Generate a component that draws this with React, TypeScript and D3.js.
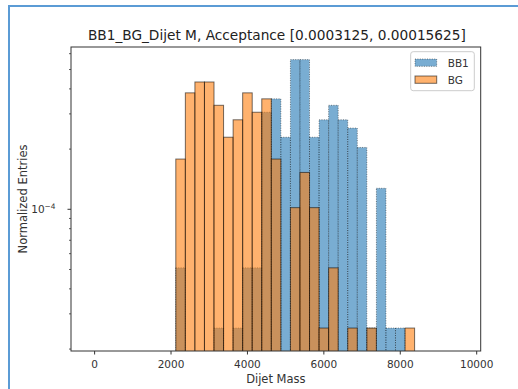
import React from 'react';
import * as d3 from 'd3';

// Histogram data (counts per 250-wide bin, starting at 2125)
const binStart = 2125;
const binWidth = 250;
const bb1Counts = [2, 0, 0, 0, 1, 0, 1, 2, 2, 12, 14, 9, 22, 22, 9, 11, 13, 11, 10, 8, 1, 5, 1, 1, 0];
const bgCounts = [7, 15, 17, 17, 13, 9, 11, 15, 12, 14, 7, 0, 4, 6, 4, 1, 2, 0, 1, 0, 1, 0, 0, 0, 1];
const xTicks = [0, 2000, 4000, 6000, 8000, 10000];
const yMajorTicks = [1e-4];
const yMinorTicks = [2e-5, 3e-5, 4e-5, 5e-5, 6e-5, 7e-5, 8e-5, 9e-5, 2e-4, 3e-4, 4e-4, 5e-4, 6e-4];
const seriesNames = ['BB1', 'BG'];
const title = 'BB1_BG_Dijet M, Acceptance [0.0003125, 0.00015625]';
const xLabel = 'Dijet Mass';
const yLabel = 'Normalized Entries';

const W = 518;
const H = 389;
const L = 71, R = 480.7, T = 47, B = 351;
const FONT = 'DejaVu Sans, sans-serif';

function density(counts: number[]) {
  const total = d3.sum(counts);
  return counts.map((c, i) => ({
    x0: binStart + i * binWidth,
    x1: binStart + (i + 1) * binWidth,
    v: c / (total * binWidth),
  }));
}

export default function App() {
  const x = d3.scaleLinear().domain([-618, 10105]).range([L, R]);
  const y = d3.scaleLog().domain([1.956e-5, 6.48e-4]).range([B, T]);
  const bb1 = density(bb1Counts).filter((d) => d.v > 0);
  const bg = density(bgCounts).filter((d) => d.v > 0);

  return (
    <svg
      width={W}
      height={H}
      style={{ position: 'absolute', left: 0, top: 0, background: '#fff' }}
      fontFamily={FONT}
    >
      <defs>
        <clipPath id="axclip">
          <rect x={L} y={T} width={R - L} height={B - T} />
        </clipPath>
      </defs>
      {/* outer blue frame */}
      <path d={`M9,${H} L9,6 L${W},6`} fill="none" stroke="#5b9bd5" strokeWidth={2} />

      <g clipPath="url(#axclip)">
        {bb1.map((d, i) => (
          <rect
            key={'b' + i}
            x={x(d.x0)}
            y={y(d.v)}
            width={x(d.x1) - x(d.x0)}
            height={B + 5 - y(d.v)}
            fill="#1f77b4"
            fillOpacity={0.6}
            stroke="#000"
            strokeOpacity={0.45}
            strokeWidth={1}
            strokeDasharray="1,1.4"
          />
        ))}
        {bg.map((d, i) => (
          <rect
            key={'o' + i}
            x={x(d.x0)}
            y={y(d.v)}
            width={x(d.x1) - x(d.x0)}
            height={B + 5 - y(d.v)}
            fill="#ff7f0e"
            fillOpacity={0.6}
            stroke="#000"
            strokeOpacity={0.55}
            strokeWidth={1}
          />
        ))}
      </g>

      {/* axes frame */}
      <rect x={L} y={T} width={R - L} height={B - T} fill="none" stroke="#333" strokeWidth={1} />

      {/* x ticks */}
      {xTicks.map((t) => (
        <g key={t}>
          <line x1={x(t)} x2={x(t)} y1={B} y2={B + 3.5} stroke="#333" strokeWidth={1} />
          <text x={x(t)} y={368.3} textAnchor="middle" fontSize={10.5} fill="#333">
            {t}
          </text>
        </g>
      ))}
      {/* y ticks */}
      {yMajorTicks.map((t) => (
        <g key={t}>
          <line x1={L - 3.5} x2={L} y1={y(t)} y2={y(t)} stroke="#333" strokeWidth={1} />
          <text x={55.5} y={y(t) + 4} textAnchor="end" fontSize={10.5} fill="#333">
            10
            <tspan dy={-4.5} fontSize={7.4}>
              −4
            </tspan>
          </text>
        </g>
      ))}
      {yMinorTicks.map((t) => (
        <line key={t} x1={L - 2} x2={L} y1={y(t)} y2={y(t)} stroke="#333" strokeWidth={0.8} />
      ))}

      {/* labels */}
      <text x={(L + R) / 2} y={383.4} textAnchor="middle" fontSize={11.5} fill="#333">
        {xLabel}
      </text>
      <text
        transform={`translate(27.3, ${(T + B) / 2}) rotate(-90)`}
        textAnchor="middle"
        fontSize={11.5}
        fill="#333"
      >
        {yLabel}
      </text>
      <text x={(L + R) / 2 + 1} y={40} textAnchor="middle" fontSize={13.7} fill="#222">
        {title}
      </text>

      {/* legend */}
      <rect x={410.7} y={51.7} width={63.6} height={39} rx={2.5} fill="#fff" fillOpacity={0.8} stroke="#ccc" strokeWidth={1} />
      <rect x={415} y={59} width={21.7} height={7.3} fill="#1f77b4" fillOpacity={0.6} stroke="#000" strokeOpacity={0.45} strokeDasharray="1,1.4" />
      <text x={447.7} y={66.5} fontSize={10.5} fill="#333">
        {seriesNames[0]}
      </text>
      <rect x={415} y={76} width={21.7} height={7.3} fill="#ff7f0e" fillOpacity={0.6} stroke="#000" strokeOpacity={0.55} />
      <text x={447.7} y={83.5} fontSize={10.5} fill="#333">
        {seriesNames[1]}
      </text>
    </svg>
  );
}
